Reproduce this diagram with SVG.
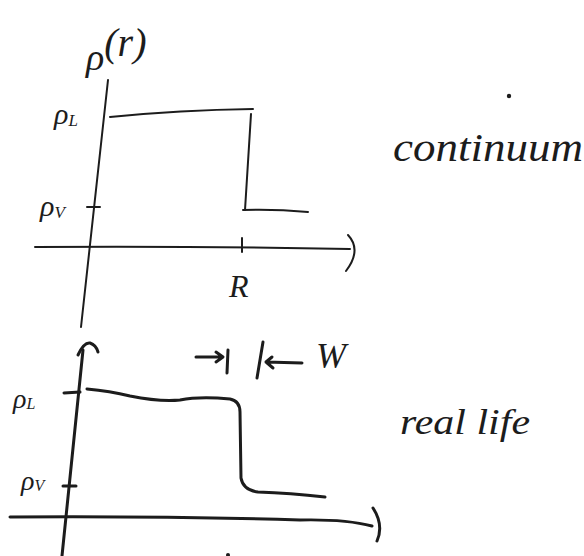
<svg xmlns="http://www.w3.org/2000/svg" width="584" height="556" viewBox="0 0 584 556">
<style>
.ink{fill:none;stroke:#1c1c1c;stroke-linecap:round;stroke-linejoin:round}
.thin{stroke-width:2}
.thick{stroke-width:3}
.lbl{font-family:"Liberation Serif","DejaVu Serif",serif;font-style:italic;fill:#1c1c1c}
</style>
<rect width="584" height="556" fill="#ffffff"/>
<g id="top-plot">
  <path class="ink thin" d="M108,80 L81,327"/>
  <path class="ink thin" d="M35,247 Q200,246 350,249"/>
  <path class="ink thin" d="M348,235 Q362,250 346,271"/>
  <path class="ink thin" d="M110,117 Q180,110 253,109"/>
  <path class="ink thin" d="M251,114 L245,210"/>
  <path class="ink thin" d="M243,210 Q275,209 308,212"/>
  <path class="ink thin" d="M87,207 L100,207"/>
  <path class="ink thin" d="M242,238 L242,252"/>
  <text class="lbl" x="86" y="70" font-size="38">ρ<tspan dy="-14" font-size="40">(r)</tspan></text>
  <text class="lbl" x="54" y="124" font-size="30">ρ<tspan font-size="17" dy="2">L</tspan></text>
  <text class="lbl" x="40" y="216" font-size="30">ρ<tspan font-size="17" dy="2">V</tspan></text>
  <text class="lbl" x="229" y="297" font-size="32">R</text>
  <circle cx="509" cy="96" r="2.2" fill="#1c1c1c"/>
  <text class="lbl" x="393" y="161" font-size="40" textLength="190" lengthAdjust="spacingAndGlyphs">continuum</text>
</g>
<g id="bottom-plot">
  <path class="ink thick" d="M83,350 L62,556"/>
  <path class="ink thick" d="M78,355 Q84,342 90,343 Q96,345 98,352"/>
  <path class="ink thick" d="M10,517 Q170,516 300,520 Q345,519 372,526"/>
  <path class="ink thick" d="M373,508 Q384,525 377,541"/>
  <path class="ink thick" d="M87,389 Q110,391 130,396 Q160,402 180,400 Q200,396 230,399 Q240,401 240,412 L241,478 Q243,490 258,492 Q290,493 325,497"/>
  <path class="ink thick" d="M64,393 L80,392"/>
  <path class="ink thick" d="M63,486 L76,486"/>
  <path class="ink thick" d="M196,357 L222,357 M216,352 L223,357 L216,362"/>
  <path class="ink thick" d="M228,350 L227,373"/>
  <path class="ink thick" d="M263,342 L257,378"/>
  <path class="ink thick" d="M302,363 L266,362 M272,357 L266,362 L273,368"/>
  <text class="lbl" x="316" y="368" font-size="36">W</text>
  <text class="lbl" x="13" y="408" font-size="28">ρ<tspan font-size="16" dy="1">L</tspan></text>
  <text class="lbl" x="21" y="490" font-size="28">ρ<tspan font-size="16" dy="1">V</tspan></text>
  <circle cx="228" cy="555" r="2" fill="#1c1c1c"/>
  <text class="lbl" x="400" y="434" font-size="36" textLength="130" lengthAdjust="spacingAndGlyphs">real life</text>
</g>
</svg>
